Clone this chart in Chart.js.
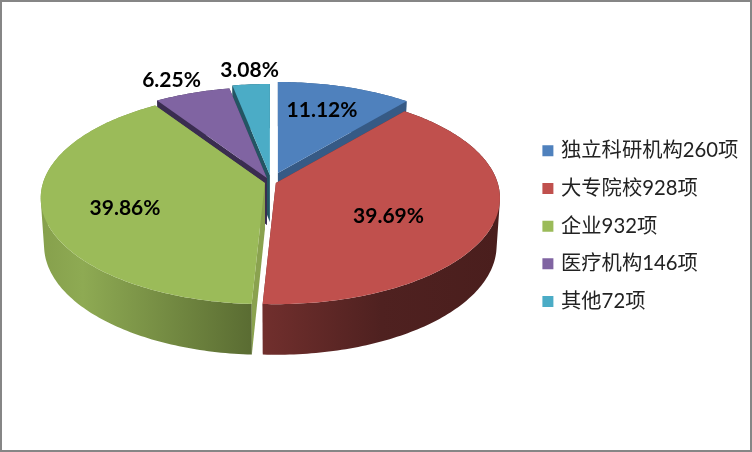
<!DOCTYPE html>
<html>
<head>
<meta charset="utf-8">
<script src="https://cdn.jsdelivr.net/npm/chart.js@4/dist/chart.umd.js"></script>
<style>
  html, body { margin: 0; padding: 0; background: #fff; }
  canvas { display: block; }
</style>
</head>
<body>
<canvas id="pie" width="752" height="452"></canvas>
<script>
// Chart data
const categories = ['独立科研机构260项', '大专院校928项', '企业932项', '医疗机构146项', '其他72项'];
const projectCounts = [260, 928, 932, 146, 72];
const percentLabels = ['11.12%', '39.69%', '39.86%', '6.25%', '3.08%'];

// Colours
const topColors = ['#4f81bd', '#c0504d', '#9bbb59', '#8064a2', '#4bacc6'];
const sideColors = ['#365a85', '#6e2e2c', '#8aa24f', '#3a2d50', '#235563'];
const wallStops = [
    [[0, '#365a85'], [1, '#365a85']],
    [[0, '#712f2d'], [0.5, '#4f2120'], [1, '#4a1e1d']],
    [[0, '#86a04c'], [0.2, '#8eaa53'], [1, '#5a6c32']],
    [[0, '#3a2d50'], [1, '#3a2d50']],
    [[0, '#235563'], [1, '#235563']]
];

// Each slice is pulled out of the pie by its own amount (px)
const sliceShift = [[8, -5], [6, 5], [-5, 5], [-3, 0], [0, -3]];
const labelAt = [[322, 110], [388.5, 216], [125, 208], [171.5, 80], [249.5, 70]];

// Fake 3D view settings
const scaleX = 1.2641;
const scaleY = 0.5923;
const perspective = 0.142;
const depth = 47;

function project(arc, angle, r, lower) {
    const u = Math.cos(angle) * r;
    const v = Math.sin(angle) * r;
    const w = 1 - perspective * v;
    const rx = arc.outerRadius * scaleX * (lower ? 0.985 : 1);
    const ry = arc.outerRadius * scaleY * (lower ? 1.03 : 1);
    return { x: rx * u / w, y: ry * v / w + (lower ? depth : 0) };
}

function rimPoints(arc, lower) {
    const pts = [];
    const steps = Math.ceil((arc.endAngle - arc.startAngle) / (Math.PI / 180));
    for (let i = 0; i <= steps; i++) {
        pts.push(project(arc, arc.startAngle + (arc.endAngle - arc.startAngle) * i / steps, 1, lower));
    }
    return pts;
}

function addPolygon(ctx, pts, ox, oy) {
    pts.forEach((p, i) => {
        if (i === 0) ctx.moveTo(ox + p.x, oy + p.y);
        else ctx.lineTo(ox + p.x, oy + p.y);
    });
    ctx.closePath();
}

function fillShape(ctx, pts, ox, oy, fill) {
    ctx.beginPath();
    addPolygon(ctx, pts, ox, oy);
    ctx.fillStyle = fill;
    ctx.fill();
}

// The curved wall is one strip of quads, all wound the same way so they merge
function fillWall(ctx, top, low, ox, oy, fill) {
    ctx.beginPath();
    for (let i = 0; i < top.length - 1; i++) {
        const quad = [top[i], top[i + 1], low[i + 1], low[i]];
        let area = 0;
        quad.forEach((p, j) => {
            const q = quad[(j + 1) % 4];
            area += p.x * q.y - q.x * p.y;
        });
        addPolygon(ctx, area < 0 ? quad.reverse() : quad, ox, oy);
    }
    ctx.fillStyle = fill;
    ctx.fill();
}

// Pie controller that draws the arcs as extruded slices
class Pie3dController extends Chart.PieController {
    static id = 'pie3d';

    draw() {
        const ctx = this.chart.ctx;
        const arcs = this.getMeta().data;
        const midDepth = i => Math.sin((arcs[i].startAngle + arcs[i].endAngle) / 2);
        // back slices first
        const order = arcs.map((a, i) => i).sort((a, b) => midDepth(a) - midDepth(b));

        order.forEach(i => {
            const arc = arcs[i];
            const ox = arc.x + sliceShift[i][0];
            const oy = arc.y + sliceShift[i][1];
            const top = rimPoints(arc, false);
            const low = rimPoints(arc, true);
            const apexTop = { x: 0, y: 0 };
            const apexLow = { x: 0, y: depth };
            const last = top.length - 1;

            fillShape(ctx, [apexTop, top[0], low[0], apexLow], ox, oy, sideColors[i]);
            fillShape(ctx, [apexTop, top[last], low[last], apexLow], ox, oy, sideColors[i]);

            const xs = top.map(p => p.x);
            const grad = ctx.createLinearGradient(ox + Math.min(...xs), 0, ox + Math.max(...xs), 0);
            wallStops[i].forEach(s => grad.addColorStop(s[0], s[1]));
            fillWall(ctx, top, low, ox, oy, grad);

            fillShape(ctx, [apexTop].concat(top), ox, oy, arc.options.backgroundColor);
        });
    }
}
Chart.register(Pie3dController);

// Percent labels and the grey frame
const decorPlugin = {
    id: 'decor',
    afterDatasetsDraw(chart) {
        const ctx = chart.ctx;
        ctx.save();
        ctx.font = 'bold 21px Lato, "Noto Sans"';
        ctx.fillStyle = '#000';
        ctx.textAlign = 'center';
        ctx.textBaseline = 'middle';
        percentLabels.forEach((t, i) => ctx.fillText(t, labelAt[i][0], labelAt[i][1]));
        ctx.restore();
    },
    afterLayout(chart) {
        // move the legend block to where the reference has it
        chart.legend.left = 527.5;
        chart.legend.top = 123.2;
    },
    afterDraw(chart) {
        const ctx = chart.ctx;
        ctx.save();
        ctx.strokeStyle = '#868686';
        ctx.lineWidth = 2;
        ctx.strokeRect(1, 1, 750, 450);
        ctx.restore();
    }
};

new Chart(document.getElementById('pie'), {
    type: 'pie3d',
    data: {
        labels: categories,
        datasets: [{
            data: projectCounts,
            backgroundColor: topColors,
            // only the legend swatches use the border, it keeps the text close to them
            borderColor: topColors,
            borderWidth: 5,
            clip: false
        }]
    },
    options: {
        responsive: false,
        animation: false,
        layout: { padding: { left: 8.5, bottom: 96 } },
        plugins: {
            tooltip: { enabled: false },
            legend: {
                position: 'right',
                align: 'start',
                labels: {
                    boxWidth: 6,
                    boxHeight: 6,
                    padding: 17.4,
                    color: '#222',
                    font: { family: 'Lato, "Noto Sans CJK SC"', size: 20.3 }
                }
            }
        }
    },
    plugins: [decorPlugin]
});
</script>
</body>
</html>
